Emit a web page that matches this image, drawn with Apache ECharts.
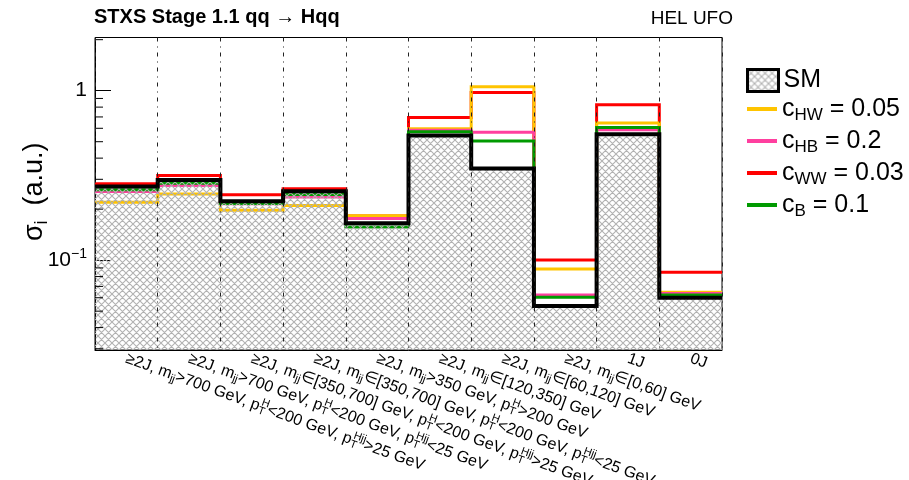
<!DOCTYPE html>
<html>
<head>
<meta charset="utf-8">
<script src="https://cdn.jsdelivr.net/npm/echarts@6/dist/echarts.min.js"></script>
<style>
  html, body { margin: 0; padding: 0; background: #fff; }
  #chart { width: 909px; height: 480px; }
</style>
</head>
<body>
<div id="chart"></div>
<script>
// STXS stage 1.1 bins for qq -> Hqq (TLatex-like markup, converted to rich text below)
const binLabels = [
  '≥2J, m_{jj}>700 GeV, p_{T}^{H}<200 GeV, p_{T}^{Hjj}>25 GeV',
  '≥2J, m_{jj}>700 GeV, p_{T}^{H}<200 GeV, p_{T}^{Hjj}<25 GeV',
  '≥2J, m_{jj}∈[350,700] GeV, p_{T}^{H}<200 GeV, p_{T}^{Hjj}>25 GeV',
  '≥2J, m_{jj}∈[350,700] GeV, p_{T}^{H}<200 GeV, p_{T}^{Hjj}<25 GeV',
  '≥2J, m_{jj}>350 GeV, p_{T}^{H}>200 GeV',
  '≥2J, m_{jj}∈[120,350] GeV',
  '≥2J, m_{jj}∈[60,120] GeV',
  '≥2J, m_{jj}∈[0,60] GeV',
  '1J',
  '0J'
];

// cross sections per bin (a.u.)
const smValues  = [0.272, 0.297, 0.223, 0.255, 0.165, 0.544, 0.348, 0.0537, 0.554, 0.0601];
const cHWValues = [0.220, 0.246, 0.197, 0.210, 0.183, 0.597, 1.056, 0.0887, 0.645, 0.0647];
const cHBValues = [0.254, 0.276, 0.215, 0.236, 0.176, 0.585, 0.568, 0.0623, 0.588, 0.0635];
const cWWValues = [0.282, 0.316, 0.243, 0.264, 0.182, 0.695, 0.976, 0.1003, 0.827, 0.0848];
const cBValues  = [0.260, 0.284, 0.216, 0.244, 0.157, 0.572, 0.505, 0.0604, 0.607, 0.0623];

const seriesNames = ['SM', 'c_{HW} = 0.05', 'c_{HB} = 0.2', 'c_{WW} = 0.03', 'c_{B} = 0.1'];

// y axis decorations
const yMajorTicks  = [0.1, 1];
const yMajorLabels = ['10^{−1}', '1'];
const yMinorTicks  = [0.03, 0.04, 0.05, 0.06, 0.07, 0.08, 0.09,
                      0.2, 0.3, 0.4, 0.5, 0.6, 0.7, 0.8, 0.9, 2];
const yRange = [0.0295, 2.06];

const FONT = '"Liberation Sans", Arial, Helvetica, sans-serif';

// TLatex-style sub/superscripts -> ECharts rich text
function toRich(s) {
  return s
    .replace(/_\{([^}]*)\}\^\{([^}]*)\}/g, '{st|$1}{sp|$2}')
    .replace(/_\{([^}]*)\}/g, '{sb|$1}')
    .replace(/\^\{([^}]*)\}/g, '{sp|$1}');
}

function scriptStyles(size, shiftDown, shiftUp) {
  return {
    sb: { fontSize: size, fontFamily: FONT, color: '#000', padding: [2 * shiftDown, 0, 0, 0] },
    st: { fontSize: size, fontFamily: FONT, color: '#000', padding: [2 * shiftDown, 0, 0, 0], width: 1 },
    sp: { fontSize: size, fontFamily: FONT, color: '#000', padding: [0, 0, 2 * shiftUp, 0] }
  };
}

// grey cross-hatch used for the SM histogram
const hatchCanvas = (function () {
  const n = 7;
  const c = document.createElement('canvas');
  c.width = n; c.height = n;
  const g = c.getContext('2d');
  g.strokeStyle = '#b2b2b2';
  g.lineWidth = 1.1;
  g.beginPath();
  for (const k of [-n, 0, n]) {
    g.moveTo(k, 0); g.lineTo(k + n, n);
    g.moveTo(k, n); g.lineTo(k + n, 0);
  }
  g.stroke();
  return c;
})();
const hatchFill = { image: hatchCanvas, repeat: 'repeat' };

// bin contents -> step points on bin edges
function stepData(vals) {
  const pts = vals.map((v, i) => [i, v]);
  pts.push([vals.length, vals[vals.length - 1]]);
  return pts;
}

function histSeries(name, vals, color, width, z) {
  return {
    name: name,
    type: 'line',
    xAxisIndex: 1,
    yAxisIndex: 0,
    step: 'end',
    symbol: 'none',
    data: stepData(vals),
    itemStyle: { color: color },
    lineStyle: { color: color, width: width, cap: 'butt', join: 'miter' },
    z: z,
    silent: true
  };
}

const smSeries = histSeries(seriesNames[0], smValues, '#000000', 4, 6);
smSeries.areaStyle = { color: hatchFill, opacity: 1, origin: 'start' };

const chart = echarts.init(document.getElementById('chart'), null, { renderer: 'canvas' });

chart.setOption({
  animation: false,
  backgroundColor: '#ffffff',
  textStyle: { fontFamily: FONT, color: '#000' },
  title: [
    {
      text: 'STXS Stage 1.1 qq → Hqq',
      left: 94, top: 7, padding: 0,
      textStyle: { fontSize: 20, fontWeight: 'bold', color: '#000', fontFamily: FONT }
    },
    {
      text: 'HEL UFO',
      right: 176, top: 9, padding: 0,
      textStyle: { fontSize: 19, fontWeight: 'normal', color: '#000', fontFamily: FONT }
    }
  ],
  legend: [
    {
      data: [{ name: 'SM', icon: 'rect',
               itemStyle: { color: hatchFill, borderColor: '#000', borderWidth: 3 } }],
      left: 746, top: 68, padding: 0,
      itemWidth: 31, itemHeight: 22,
      selectedMode: false,
      textStyle: { fontSize: 25, color: '#000', fontFamily: FONT }
    },
    {
      data: seriesNames.slice(1),
      orient: 'vertical',
      icon: 'rect',
      left: 747, top: 94, padding: 0,
      itemWidth: 30, itemHeight: 4, itemGap: 2,
      itemStyle: { borderWidth: 0 },
      selectedMode: false,
      formatter: function (name) { return toRich(name); },
      textStyle: {
        fontSize: 25, lineHeight: 30, color: '#000', fontFamily: FONT,
        rich: scriptStyles(17, 6, 6)
      }
    }
  ],
  grid: {
    left: 95, right: 187, top: 37.5, bottom: 130,
    containLabel: false,
    outerBoundsMode: 'none',
    show: true, borderColor: '#000', borderWidth: 1, backgroundColor: 'transparent'
  },
  xAxis: [
    {
      type: 'category',
      data: binLabels,
      boundaryGap: true,
      z: 10,
      axisLine: { show: true, lineStyle: { color: '#000', width: 1 } },
      axisTick: { show: false },
      splitLine: { show: true, lineStyle: { color: '#222', width: 1, type: [4, 5, 1, 5] } },
      axisLabel: {
        interval: 0,
        rotate: -20,
        align: 'left',
        verticalAlign: 'middle',
        margin: 8,
        fontSize: 16,
        color: '#000',
        fontFamily: FONT,
        hideOverlap: false,
        formatter: function (v) { return toRich(v); },
        rich: scriptStyles(11, 4, 5)
      }
    },
    {
      type: 'value',
      min: 0, max: binLabels.length,
      show: false
    }
  ],
  yAxis: {
    type: 'log',
    logBase: 10,
    min: yRange[0], max: yRange[1],
    name: toRich('σ_{i}  (a.u.)'),
    nameLocation: 'middle',
    nameRotate: 90,
    nameGap: 44,
    nameMoveOverlap: false,
    nameTextStyle: {
      fontSize: 27, color: '#000', fontFamily: FONT,
      padding: [0, 0, 0, 4],
      rich: scriptStyles(18, 7, 7)
    },
    axisLine: { show: true, lineStyle: { color: '#000', width: 1 } },
    axisTick: { show: true, inside: true, length: 16, lineStyle: { color: '#000', width: 1 } },
    splitLine: { show: false },
    axisLabel: {
      margin: 8,
      fontSize: 21,
      color: '#000',
      fontFamily: FONT,
      showMinLabel: true,
      showMaxLabel: true,
      formatter: function (v) {
        for (let i = 0; i < yMajorTicks.length; i++) {
          if (Math.abs(Math.log10(v) - Math.log10(yMajorTicks[i])) < 1e-6) {
            return toRich(yMajorLabels[i]);
          }
        }
        return '';
      },
      rich: scriptStyles(14, 4, 6)
    }
  },
  series: [
    histSeries(seriesNames[3], cWWValues, '#ff0000', 3, 2),
    histSeries(seriesNames[1], cHWValues, '#ffc400', 3, 3),
    histSeries(seriesNames[2], cHBValues, '#ff3f9f', 3, 3),
    histSeries(seriesNames[4], cBValues, '#009a00', 3, 3),
    smSeries,
    {
      // minor log ticks on the y axis (2..9 x 10^k)
      type: 'custom',
      xAxisIndex: 1,
      yAxisIndex: 0,
      silent: true,
      z: 8,
      data: yMinorTicks.map(v => [0, v]),
      renderItem: function (params, api) {
        const p = api.coord([0, api.value(1)]);
        return {
          type: 'line',
          shape: { x1: p[0], y1: p[1], x2: p[0] + 8, y2: p[1] },
          style: { stroke: '#000', lineWidth: 1 }
        };
      }
    }
  ]
});
</script>
</body>
</html>
